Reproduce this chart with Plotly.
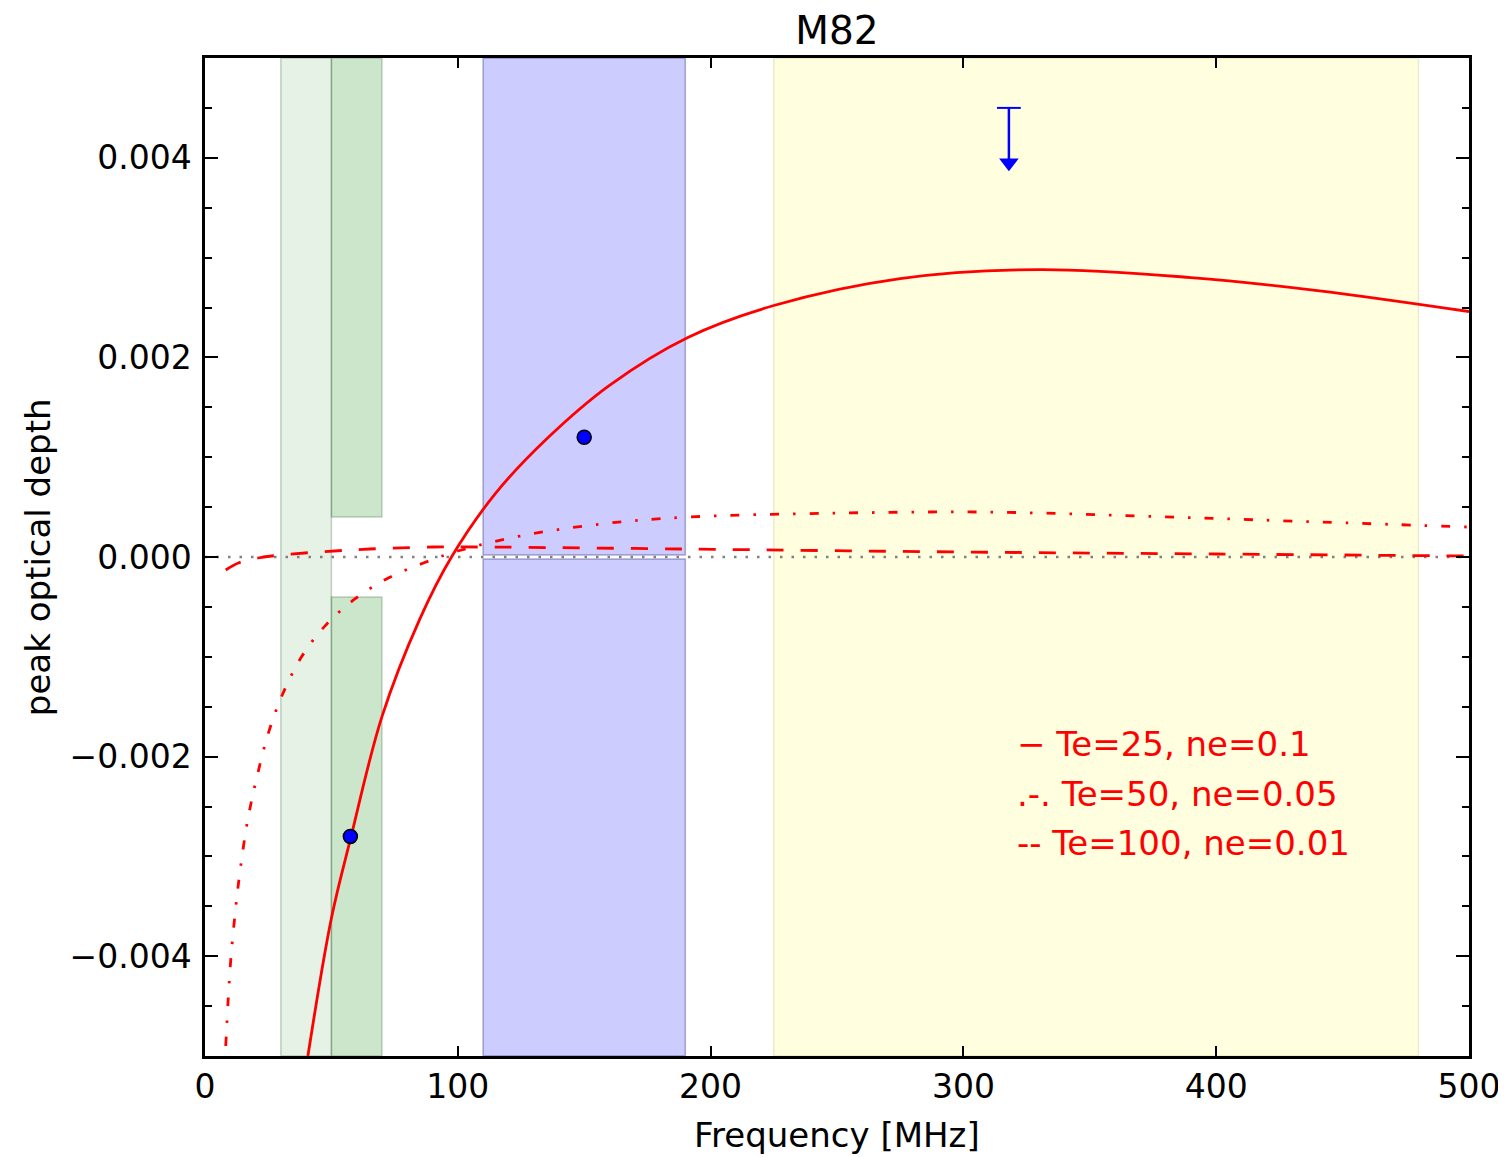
import plotly.graph_objects as go

# ---------------- data ----------------
# model curves
solid_x = [40.7, 50, 57.6, 70, 85, 97.5, 115, 135, 160, 191, 225, 275, 330, 390, 440, 500]
solid_y = [-0.0050, -0.00362, -0.00282, -0.00160, -0.00062, 0.0, 0.00064, 0.00118, 0.00172, 0.00220,
           0.00252, 0.00279, 0.00288, 0.00280, 0.00267, 0.00246]

dashdot_x = [8.2, 10, 12, 14, 17, 20.4, 25, 30.6, 38.2, 47.5, 59.3, 72.5, 86.4, 100, 124.6, 156.3, 191,
             250, 310, 370, 430, 500]
dashdot_y = [-0.0049, -0.0041, -0.00355, -0.00312, -0.00262, -0.00222, -0.00177, -0.00138, -0.00100,
             -0.00069, -0.00042, -0.00021, -0.00006, 0.00006, 0.00021, 0.00033, 0.00040, 0.00044,
             0.00045, 0.00041, 0.00036, 0.00030]

dashed_x = [8.2, 13.2, 21, 30, 45, 65, 90, 110, 190, 300, 400, 500]
dashed_y = [-0.00013, -0.00006, -0.00001, 0.00002, 0.00005, 0.00008, 0.00010, 0.00010, 0.00008,
            0.00005, 0.00003, 0.00001]

# measurements
meas_x = [57.5, 150]
meas_y = [-0.0028, 0.0012]

# upper limit
ul_x = [318]
ul_y = [0.0045]

# frequency bands
band_light_green = [30, 50]
band_dark_green = [50, 70]
dark_green_gap = [-0.0004, 0.0004]
band_blue = [110, 190]
blue_gap = [-0.00002, 0.00002]
band_yellow = [225, 480]

legend_labels = ["\u2212 Te=25, ne=0.1", ".-. Te=50, ne=0.05", "-- Te=100, ne=0.01"]
legend_y = [-0.00187, -0.00237, -0.00287]
legend_x = 320.5

x_ticks = [0, 100, 200, 300, 400, 500]
y_ticks = [-0.004, -0.002, 0.0, 0.002, 0.004]
y_ticktext = ["\u22120.004", "\u22120.002", "0.000", "0.002", "0.004"]

x_range = [0, 500]
y_range = [-0.005, 0.005]

FONT = "DejaVu Sans"
FS_TICK = 33
FS_LAB = 34
FS_TITLE = 39

W, H = 1498, 1149

fig = go.Figure()

# zero dotted line
fig.add_trace(go.Scatter(x=x_range, y=[0, 0], mode="lines",
                         line=dict(color="rgb(128,128,128)", width=2.5, dash="2.5px,9px"),
                         hoverinfo="skip", showlegend=False))

fig.add_trace(go.Scatter(x=dashed_x, y=dashed_y, mode="lines",
                         line=dict(color="red", width=2.8, dash="17px,17px", shape="spline", smoothing=1),
                         showlegend=False))
fig.add_trace(go.Scatter(x=dashdot_x, y=dashdot_y, mode="lines",
                         line=dict(color="red", width=2.8, dash="9px,14px,2.5px,14px", shape="spline",
                                   smoothing=1),
                         showlegend=False))
fig.add_trace(go.Scatter(x=solid_x, y=solid_y, mode="lines",
                         line=dict(color="red", width=2.8, shape="spline", smoothing=1),
                         showlegend=False))

fig.add_trace(go.Scatter(x=meas_x, y=meas_y, mode="markers",
                         marker=dict(color="blue", size=14, line=dict(color="black", width=1.5)),
                         showlegend=False))

# upper limit arrow
arrow_len = 0.00055
for xv, yv in zip(ul_x, ul_y):
    fig.add_trace(go.Scatter(x=[xv, xv], y=[yv, yv - arrow_len], mode="lines",
                             line=dict(color="blue", width=2.5), showlegend=False))
    fig.add_trace(go.Scatter(x=[xv], y=[yv], mode="markers",
                             marker=dict(symbol="line-ew", size=17, line=dict(color="blue", width=2)),
                             showlegend=False))
    fig.add_trace(go.Scatter(x=[xv], y=[yv - arrow_len], mode="markers",
                             marker=dict(symbol="triangle-down", size=17, color="blue",
                                         line=dict(width=0)),
                             showlegend=False))

shapes = []
edge = dict(color="rgba(0,60,0,0.22)", width=1.5)
shapes.append(dict(type="rect", xref="x", yref="y", x0=band_light_green[0], x1=band_light_green[1],
                   y0=y_range[0], y1=y_range[1], fillcolor="rgba(0,128,0,0.1)", line=edge, layer="below"))
shapes.append(dict(type="rect", xref="x", yref="y", x0=band_dark_green[0], x1=band_dark_green[1],
                   y0=dark_green_gap[1], y1=y_range[1], fillcolor="rgba(0,128,0,0.2)", line=edge,
                   layer="below"))
shapes.append(dict(type="rect", xref="x", yref="y", x0=band_dark_green[0], x1=band_dark_green[1],
                   y0=y_range[0], y1=dark_green_gap[0], fillcolor="rgba(0,128,0,0.2)", line=edge,
                   layer="below"))
bedge = dict(color="rgba(0,0,90,0.3)", width=1.5)
shapes.append(dict(type="rect", xref="x", yref="y", x0=band_blue[0], x1=band_blue[1],
                   y0=blue_gap[1], y1=y_range[1], fillcolor="rgba(0,0,255,0.2)", line=bedge, layer="below"))
shapes.append(dict(type="rect", xref="x", yref="y", x0=band_blue[0], x1=band_blue[1],
                   y0=y_range[0], y1=blue_gap[0], fillcolor="rgba(0,0,255,0.2)", line=bedge, layer="below"))
shapes.append(dict(type="rect", xref="x", yref="y", x0=band_yellow[0], x1=band_yellow[1],
                   y0=y_range[0], y1=y_range[1], fillcolor="rgba(255,255,0,0.12)",
                   line=dict(color="rgba(120,120,0,0.15)", width=1.5), layer="below"))

annotations = []
for lab, yv in zip(legend_labels, legend_y):
    annotations.append(dict(x=legend_x, y=yv, xref="x", yref="y", text=lab, showarrow=False,
                            xanchor="left", yanchor="middle",
                            font=dict(color="red", size=FS_LAB, family=FONT)))
annotations.append(dict(x=0.5, y=-0.079, xref="paper", yref="paper", text="Frequency [MHz]",
                        showarrow=False, xanchor="center", yanchor="middle",
                        font=dict(size=FS_LAB, family=FONT, color="black")))
annotations.append(dict(x=-0.132, y=0.5, xref="paper", yref="paper", text="peak optical depth",
                        showarrow=False, xanchor="center", yanchor="middle", textangle=-90,
                        font=dict(size=FS_LAB, family=FONT, color="black")))

fig.update_layout(
    width=W, height=H,
    margin=dict(l=197, r=37, t=50, b=101, autoexpand=False),
    paper_bgcolor="white", plot_bgcolor="white",
    font=dict(family=FONT, size=FS_TICK, color="black"),
    title=dict(text="M82", x=0.5, xref="paper", xanchor="center", y=1 - 22 / H, yref="container",
               yanchor="middle", font=dict(size=FS_TITLE, family=FONT, color="black")),
    shapes=shapes, annotations=annotations, showlegend=False,
)
fig.update_xaxes(range=x_range, tickvals=x_ticks, ticks="inside", ticklen=10, tickwidth=1.5,
                 tickcolor="black", showline=True, linecolor="black", linewidth=2.5, mirror="allticks",
                 showgrid=False, zeroline=False, tickfont=dict(size=FS_TICK, family=FONT),
                 ticklabelstandoff=0, automargin=False)
fig.update_yaxes(range=y_range, tickvals=y_ticks, ticktext=y_ticktext, ticks="inside", ticklen=13,
                 tickwidth=1.5, tickcolor="black", showline=True, linecolor="black", linewidth=2.5,
                 mirror="allticks", showgrid=False, zeroline=False,
                 tickfont=dict(size=FS_TICK, family=FONT),
                 minor=dict(dtick=0.0005, tick0=0, ticks="inside", ticklen=7, tickwidth=1.5,
                            tickcolor="black", showgrid=False),
                 ticklabelstandoff=4, automargin=False)

fig.write_html("out.html")
